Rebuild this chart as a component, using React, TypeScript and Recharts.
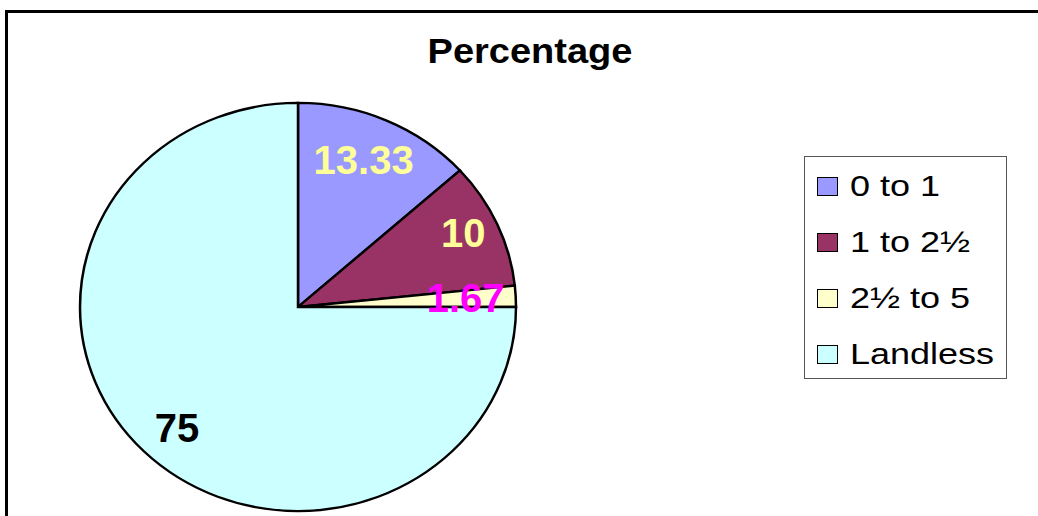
import React from 'react';
import { PieChart, Pie, Cell, Legend } from 'recharts';

const categories = ['0 to 1', '1 to 2½', '2½ to 5', 'Landless'];
const percentages = [13.33, 10, 1.67, 75];
const labelTexts = ['13.33', '10', '1.67', '75'];

const sliceColors = ['#9999FF', '#993366', '#FFFFCC', '#CCFFFF'];
const labelColors = ['#FFFF99', '#FFFF99', '#FF00FF', '#000000'];
const labelRadiusFactor = [0.74, 0.83, 0.77, 0.785];

const data = categories.map((name, i) => ({ name, value: percentages[i] }));

const FONT = '"Liberation Sans", Arial, sans-serif';
const RAD = Math.PI / 180;

const renderLabel = (props: any) => {
  const { cx, cy, midAngle, outerRadius, index } = props;
  const r = outerRadius * labelRadiusFactor[index];
  const x = cx + r * Math.cos(-midAngle * RAD);
  const y = cy + r * Math.sin(-midAngle * RAD);
  return (
    <text
      x={x}
      y={y}
      fill={labelColors[index]}
      textAnchor="middle"
      dominantBaseline="central"
      fontFamily={FONT}
      fontWeight="bold"
      fontSize={40}
    >
      {labelTexts[index]}
    </text>
  );
};

const renderLegend = (props: any) => {
  const { payload } = props;
  return (
    <div
      style={{
        width: 201,
        height: 221,
        border: '1.5px solid #555',
        background: '#fff',
        boxSizing: 'content-box',
        fontFamily: FONT,
        fontSize: 30,
        color: '#000',
      }}
    >
      {(payload || []).map((entry: any, i: number) => (
        <div
          key={i}
          style={{
            position: 'absolute',
            left: 13,
            top: 13 + i * 56,
            height: 34,
            display: 'flex',
            alignItems: 'center',
            whiteSpace: 'nowrap',
          }}
        >
          <span
            style={{
              display: 'inline-block',
              width: 18.5,
              height: 17,
              border: '1.5px solid #000',
              background: entry.color,
              marginRight: 12,
            }}
          />
          <span
            style={{
              display: 'inline-block',
              lineHeight: '34px',
              transform: 'scaleX(1.2)',
              transformOrigin: 'left center',
            }}
          >
            {entry.value}
          </span>
        </div>
      ))}
    </div>
  );
};

export default function App() {
  return (
    <div
      style={{
        position: 'fixed',
        left: 0,
        top: 0,
        width: 1038,
        height: 516,
        overflow: 'hidden',
        background: '#fff',
      }}
    >
      <style>{`.recharts-pie { transform-origin: 298px 307px; transform: scaleY(0.936); }`}</style>
      <div
        style={{
          position: 'absolute',
          left: 5,
          top: 10,
          width: 1100,
          height: 600,
          border: '3px solid #000',
          boxSizing: 'border-box',
        }}
      />
      <div
        style={{
          position: 'absolute',
          left: 330,
          top: 33,
          width: 400,
          textAlign: 'center',
          fontFamily: FONT,
          fontWeight: 'bold',
          fontSize: 35,
          lineHeight: '35px',
          color: '#000',
          transform: 'scaleX(1.086)',
          transformOrigin: 'center center',
        }}
      >
        Percentage
      </div>
      <div style={{ position: 'absolute', left: 0, top: 0 }}>
        <PieChart width={1038} height={516} margin={{ top: 0, right: 0, bottom: 0, left: 0 }}>
          <Pie
            data={data}
            dataKey="value"
            nameKey="name"
            cx={298}
            cy={307}
            outerRadius={218}
            startAngle={90}
            endAngle={-270}
            stroke="#000"
            strokeWidth={2.5}
            label={renderLabel}
            labelLine={false}
            isAnimationActive={false}
          >
            {data.map((d, i) => (
              <Cell key={d.name} fill={sliceColors[i]} stroke="#000" strokeWidth={2.5} />
            ))}
          </Pie>
          <Legend
            content={renderLegend}
            wrapperStyle={{ position: 'absolute', left: 804, top: 156, width: 204, height: 224 }}
          />
        </PieChart>
      </div>
    </div>
  );
}
